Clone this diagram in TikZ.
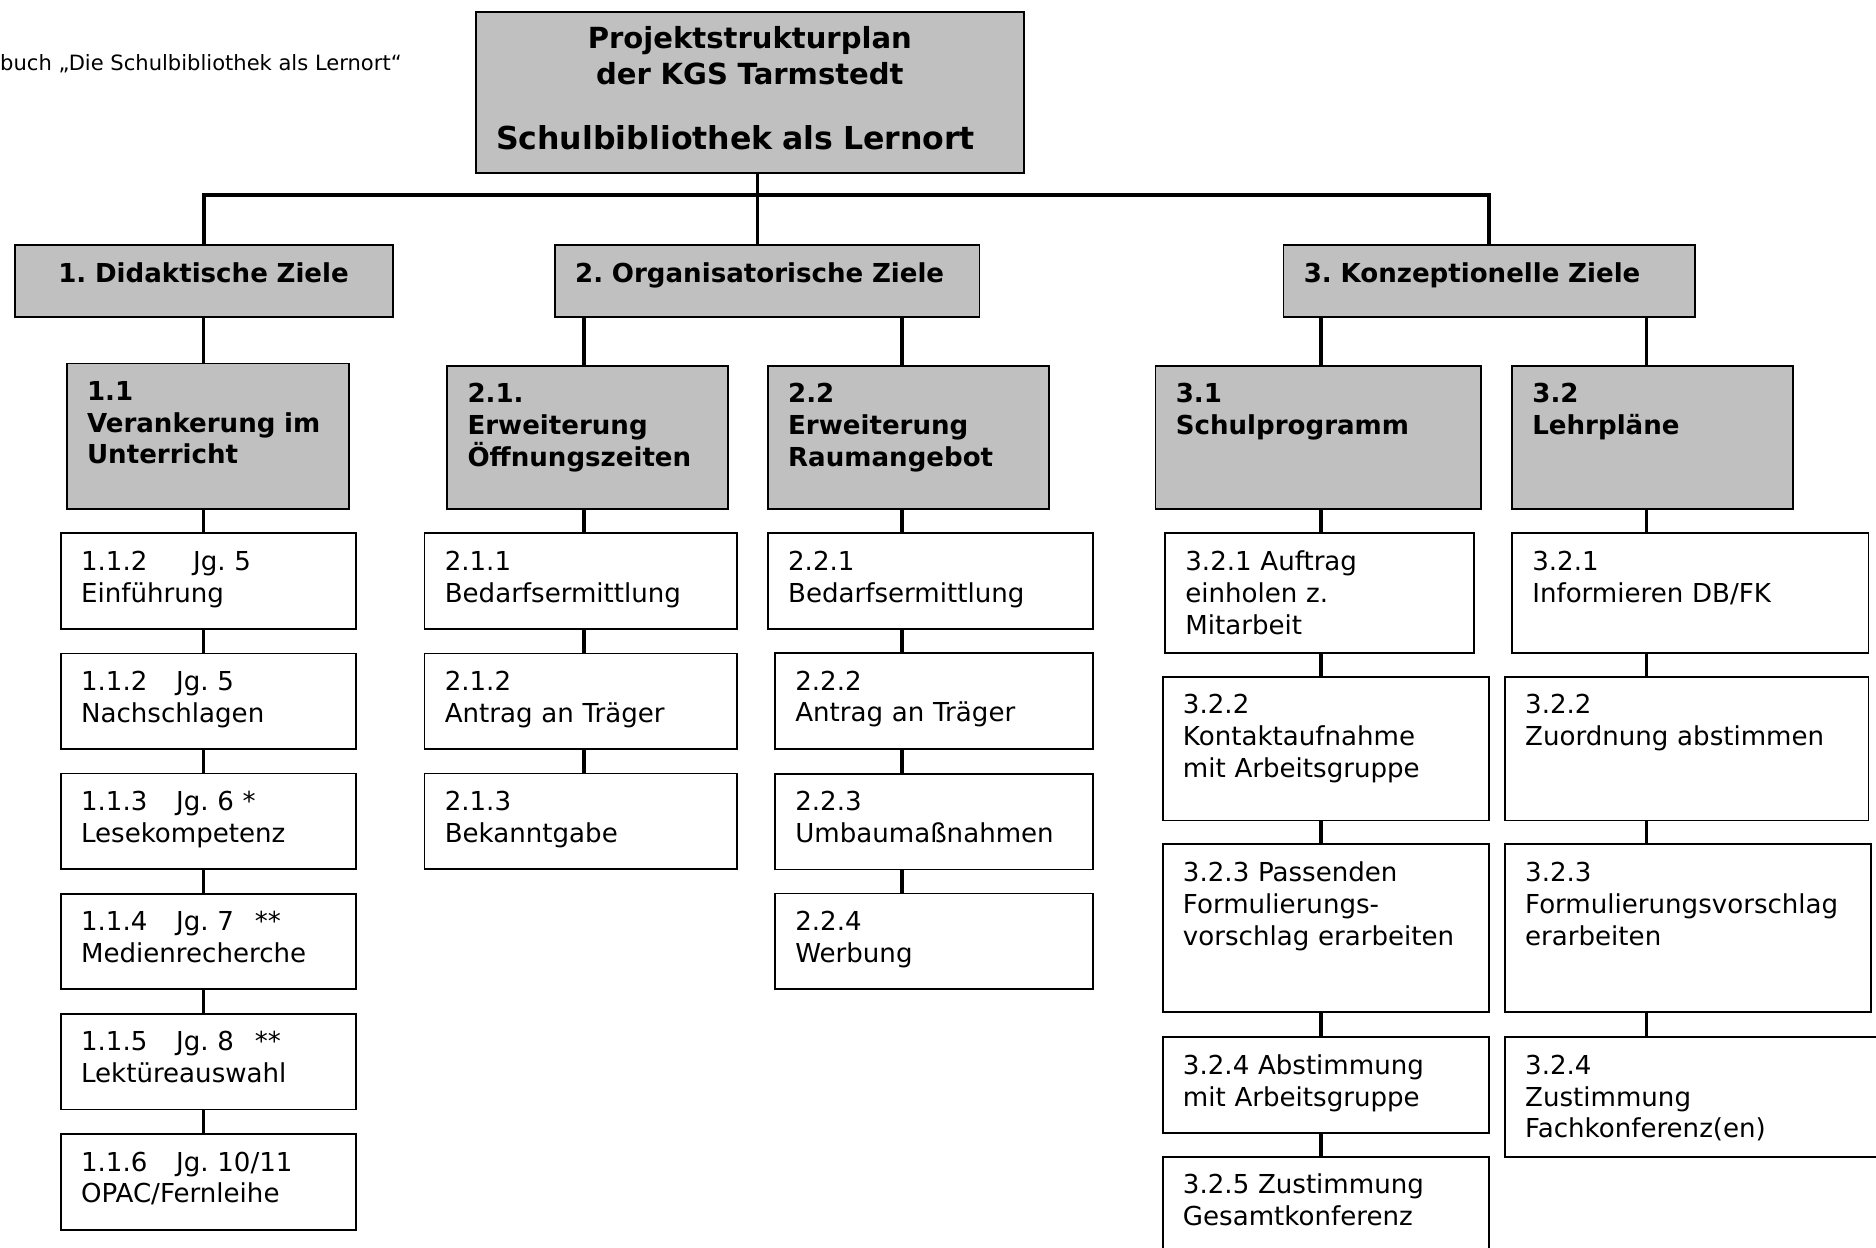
\documentclass[tikz,border=0pt]{standalone}
\usepackage{fontspec}
\setmainfont{DejaVu Sans}
\usetikzlibrary{positioning}
\definecolor{boxgray}{RGB}{192,192,192}
\frenchspacing

\tikzset{
  box/.style 2 args={draw, line width=1.5pt, anchor=north west,
    inner xsep=17pt, inner ysep=0pt, align=left,
    /utils/exec={\pgfmathsetmacro\boxw{#1-34}\pgfmathsetmacro\boxd{#2-31}},
    text width=\boxw pt, text height=31pt, text depth=\boxd pt},
  task/.style 2 args={box={#1}{#2}, fill=white,
    font=\fontsize{21.8}{26.7}\selectfont},
  goal/.style 2 args={box={#1}{#2}, fill=boxgray,
    font=\bfseries\fontsize{21.8}{26.5}\selectfont},
  conn/.style={line width=3pt}
}

\begin{document}
\begin{tikzpicture}[x=1pt,y=-1pt,node distance=18.9pt]
  \useasboundingbox (0,0) rectangle (1568,1043);
  \clip (0,0) rectangle (1568,1043);

  \node[anchor=base west, inner sep=0pt, font=\fontsize{17.6}{20}\selectfont] (note) at (0,59)
    {buch „Die Schulbibliothek als Lernort“};

  % Kopf
  \node[goal={458}{135}, align=center, font=\bfseries\fontsize{24.3}{30}\selectfont] (title) at (397,9)
    {Projektstrukturplan\\der KGS Tarmstedt\\[24pt]\hspace*{-24pt}{\fontsize{26.4}{30}\selectfont Schulbibliothek als Lernort}};

  % Ziele
  \node[goal={316}{60}] (z1) at (12,204) {\hspace*{19pt}1. Didaktische Ziele};
  \node[goal={355}{60}] (z2) at (463,204) {2. Organisatorische Ziele};
  \node[goal={344}{60}] (z3) at (1072,204) {3. Konzeptionelle Ziele};

  \node[goal={236}{122}] (p11) at (55,303) {1.1\\Verankerung im\\Unterricht};
  \node[goal={235}{120}] (p21) at (373,305) {2.1.\\Erweiterung\\Öffnungszeiten};
  \node[goal={235}{120}] (p22) at (641,305) {2.2\\Erweiterung\\Raumangebot};
  \node[goal={272}{120}] (p31) at (965,305) {3.1\\Schulprogramm};
  \node[goal={235}{120}] (p32) at (1263,305) {3.2\\Lehrpläne};

  % Arbeitspakete 1.1
  \node[task={247}{80}] (c1a) at (50,445) {1.1.2\hspace*{1.75em}Jg. 5\\Einführung};
  \node[task={247}{80}, below=of c1a] (c1b) {1.1.2\hspace*{1.1em}Jg. 5\\Nachschlagen};
  \node[task={247}{80}, below=of c1b] (c1c) {1.1.3\hspace*{1.1em}Jg. 6 *\\Lesekompetenz};
  \node[task={247}{80}, below=of c1c] (c1d) {1.1.4\hspace*{1.1em}Jg. 7\hspace*{.8em}**\\Medienrecherche};
  \node[task={247}{80}, below=of c1d] (c1e) {1.1.5\hspace*{1.1em}Jg. 8\hspace*{.8em}**\\Lektüreauswahl};
  \node[task={247}{80}, below=of c1e] (c1f) {1.1.6\hspace*{1.1em}Jg. 10/11\\OPAC/Fernleihe};

  % Arbeitspakete 2.1 / 2.2
  \node[task={261}{80}] (c21a) at (354,445) {2.1.1\\Bedarfsermittlung};
  \node[task={261}{80}, below=of c21a] (c21b) {2.1.2\\Antrag an Träger};
  \node[task={261}{80}, below=of c21b] (c21c) {2.1.3\\Bekanntgabe};

  \node[task={272}{80}] (c22a) at (641,445) {2.2.1\\Bedarfsermittlung};
  \node[task={266}{80}] (c22b) at (647,545) {2.2.2\\Antrag an Träger};
  \node[task={266}{80}] (c22c) at (647,646) {2.2.3\\Umbaumaßnahmen};
  \node[task={266}{80}] (c22d) at (647,746) {2.2.4\\Werbung};

  % Arbeitspakete 3.1 / 3.2
  \node[task={258}{100}] (c31a) at (973,445) {3.2.1 Auftrag\\einholen z.\\Mitarbeit};
  \node[task={273}{120}] (c31b) at (971,565) {3.2.2\\Kontaktaufnahme\\mit Arbeitsgruppe};
  \node[task={273}{140}] (c31c) at (971,705) {3.2.3 Passenden\\Formulierungs-\\vorschlag erarbeiten};
  \node[task={273}{80}] (c31d) at (971,866) {3.2.4 Abstimmung\\mit Arbeitsgruppe};
  \node[task={273}{100}] (c31e) at (971,966) {3.2.5 Zustimmung\\Gesamtkonferenz};

  \node[task={298}{100}] (c32a) at (1263,445) {3.2.1\\Informieren DB/FK};
  \node[task={304}{120}] (c32b) at (1257,565) {3.2.2\\Zuordnung abstimmen};
  \node[task={306}{140}] (c32c) at (1257,705) {3.2.3\\Formulierungsvorschlag\\erarbeiten};
  \node[task={313}{100}] (c32d) at (1257,866) {3.2.4\\Zustimmung\\Fachkonferenz(en)};

  % Linien
  \coordinate (top) at (633,0);
  \coordinate (bus) at (0,163);
  \coordinate (sp1) at (170,0);
  \coordinate (sp21) at (488,0);
  \coordinate (sp22) at (754,0);
  \coordinate (sp31) at (1104,0);
  \coordinate (sp32) at (1376,0);

  \draw[conn] (title.south -| top) -- (z2.north -| top);
  \draw[conn] (z1.north) -- (z1.north |- bus) -- (z3.north |- bus) -- (z3.north);

  \foreach \a/\b/\s in {z1/p11/sp1, p11/c1a/sp1, c1a/c1b/sp1, c1b/c1c/sp1, c1c/c1d/sp1,
      c1d/c1e/sp1, c1e/c1f/sp1,
      z2/p21/sp21, p21/c21a/sp21, c21a/c21b/sp21, c21b/c21c/sp21,
      z2/p22/sp22, p22/c22a/sp22, c22a/c22b/sp22, c22b/c22c/sp22, c22c/c22d/sp22,
      z3/p31/sp31, p31/c31a/sp31, c31a/c31b/sp31, c31b/c31c/sp31, c31c/c31d/sp31, c31d/c31e/sp31,
      z3/p32/sp32, p32/c32a/sp32, c32a/c32b/sp32, c32b/c32c/sp32, c32c/c32d/sp32}
    \draw[conn] (\a.south -| \s) -- (\b.north -| \s);
\end{tikzpicture}
\end{document}
